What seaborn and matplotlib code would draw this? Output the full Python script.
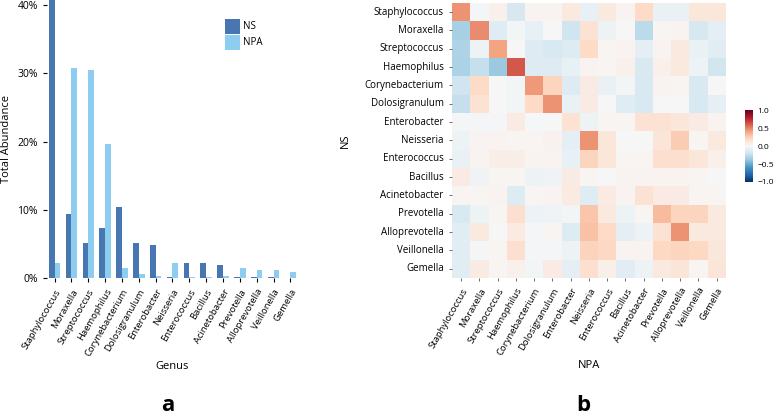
import numpy as np
import pandas as pd
import seaborn as sns
import matplotlib.pyplot as plt
from matplotlib.ticker import PercentFormatter

genera = ['Staphylococcus', 'Moraxella', 'Streptococcus', 'Haemophilus',
          'Corynebacterium', 'Dolosigranulum', 'Enterobacter', 'Neisseria',
          'Enterococcus', 'Bacillus', 'Acinetobacter', 'Prevotella',
          'Alloprevotella', 'Veillonella', 'Gemella']

# total abundance (%) per genus
ns_abund = [45.0, 9.4, 5.1, 7.4, 10.5, 5.2, 4.8, 0.25, 2.2, 2.3, 1.95, 0.2, 0.2, 0.2, 0.1]
npa_abund = [2.3, 30.7, 30.5, 19.7, 1.5, 0.7, 0.3, 2.2, 0.2, 0.2, 0.3, 1.55, 1.2, 1.2, 0.9]

# correlation NS (rows) vs NPA (columns)
corr_rows = [
    [0.45, -0.02, 0.05, -0.17, 0.03, 0.03, 0.10, -0.08, 0.10, 0.03, 0.20, -0.07, -0.07, 0.12, 0.12],
    [-0.33, 0.47, -0.12, -0.03, -0.08, 0.00, -0.20, 0.15, -0.05, 0.00, -0.27, 0.02, 0.03, -0.17, -0.10],
    [-0.31, -0.05, 0.40, 0.00, -0.13, -0.16, -0.14, 0.20, 0.02, 0.03, -0.10, 0.03, 0.10, -0.07, -0.11],
    [-0.32, -0.24, -0.37, 0.62, -0.13, -0.13, -0.08, 0.03, 0.02, 0.05, -0.16, 0.05, 0.10, -0.05, -0.19],
    [-0.20, 0.20, 0.00, -0.03, 0.43, 0.22, -0.13, 0.08, -0.07, -0.03, -0.16, 0.03, 0.02, -0.16, 0.00],
    [-0.24, 0.15, 0.00, -0.03, 0.20, 0.45, -0.07, 0.08, 0.00, -0.12, -0.16, 0.00, 0.00, -0.16, -0.09],
    [-0.02, -0.02, -0.02, 0.08, -0.01, 0.00, 0.15, -0.05, 0.02, 0.02, 0.15, 0.15, 0.12, 0.08, 0.03],
    [-0.05, 0.03, 0.03, 0.02, 0.02, 0.04, -0.10, 0.45, 0.12, 0.00, 0.00, 0.13, 0.25, 0.02, 0.10],
    [-0.07, 0.03, 0.07, 0.07, 0.03, 0.03, -0.08, 0.22, 0.12, 0.02, 0.02, 0.17, 0.17, 0.12, 0.05],
    [0.08, -0.04, 0.02, 0.02, -0.05, -0.04, 0.08, 0.02, 0.00, 0.03, 0.03, 0.03, 0.03, 0.02, 0.00],
    [0.02, 0.02, 0.03, -0.14, 0.02, 0.03, 0.09, -0.12, 0.09, 0.03, 0.15, 0.08, 0.08, 0.02, 0.02],
    [-0.16, -0.05, 0.02, 0.17, -0.06, -0.04, -0.03, 0.28, 0.10, -0.05, 0.02, 0.32, 0.22, 0.22, 0.10],
    [-0.11, 0.10, 0.00, 0.09, -0.02, 0.02, -0.14, 0.29, 0.20, -0.10, -0.06, 0.15, 0.45, 0.10, 0.10],
    [-0.11, -0.02, 0.02, 0.17, -0.02, -0.02, -0.05, 0.23, 0.21, 0.03, 0.03, 0.21, 0.22, 0.21, 0.11],
    [-0.11, 0.08, 0.02, 0.05, -0.03, 0.08, -0.10, 0.17, 0.06, -0.11, -0.05, 0.10, 0.13, 0.02, 0.13],
]

ns_color = '#4876b0'
npa_color = '#8dcdef'

plt.rcParams['font.family'] = ['Open Sans', 'DejaVu Sans']

df = pd.DataFrame({
    'Genus': genera * 2,
    'abund': [v / 100 for v in ns_abund + npa_abund],
    'sample': ['NS'] * len(genera) + ['NPA'] * len(genera),
})
corr = pd.DataFrame(corr_rows, index=genera, columns=genera)

fig = plt.figure(figsize=(7.78, 4.16), dpi=100)

# ---- panel a: bar chart
ax1 = fig.add_axes([0.0604, 0.331, 0.3226, 0.669])
sns.barplot(data=df, x='Genus', y='abund', hue='sample',
            palette={'NS': ns_color, 'NPA': npa_color},
            width=0.68, saturation=1, ax=ax1)
ax1.set_ylim(0, 0.407)
ax1.set_xlim(-0.45, 14.45)
ax1.yaxis.set_major_formatter(PercentFormatter(1.0, decimals=0))
ax1.set_yticks([0, 0.1, 0.2, 0.3, 0.4])
for s in ax1.spines.values():
    s.set_visible(False)
ax1.tick_params(axis='both', length=3, width=0.8, labelsize=7.5)
ax1.set_xticks(range(len(genera)))
ax1.set_xticklabels(genera, rotation=60, ha='right', rotation_mode='anchor', fontsize=6.8)
ax1.set_ylabel('Total Abundance', fontsize=8)
ax1.set_xlabel('Genus', fontsize=8, labelpad=2)
leg = ax1.legend(title=None, loc='upper left', bbox_to_anchor=(0.69, 0.95),
                 frameon=False, fontsize=7, handlelength=1.5, handleheight=2.0,
                 labelspacing=0.1, handletextpad=0.3, borderpad=0)

# ---- panel b: heatmap
ax2 = fig.add_axes([0.581, 0.332, 0.352, 0.661])
cax = fig.add_axes([0.9576, 0.5625, 0.0103, 0.173])
sns.heatmap(corr, cmap='RdBu_r', vmin=-1, vmax=1, ax=ax2, cbar_ax=cax)
ax2.tick_params(axis='both', length=2, width=0.6, color='#555555', pad=4, labelsize=7)
ax2.set_xticklabels(genera, rotation=60, ha='right', rotation_mode='anchor', fontsize=6.8)
ax2.set_yticklabels(genera, rotation=0, fontsize=7)
ax2.set_xlabel('NPA', fontsize=8, labelpad=2)
ax2.set_ylabel('NS', fontsize=8, labelpad=10)
cax.set_yticks([1.0, 0.5, 0.0, -0.5, -1.0])
cax.set_yticklabels(['1.0', '0.5', '0.0', '\u22120.5', '\u22121.0'])
cax.tick_params(labelsize=6, length=2, color='white', pad=1)

fig.text(0.215, 0.012, 'a', fontsize=16, fontweight='bold', ha='center', va='baseline')
fig.text(0.750, 0.012, 'b', fontsize=16, fontweight='bold', ha='center', va='baseline')

fig.savefig('out.png', dpi=100)
